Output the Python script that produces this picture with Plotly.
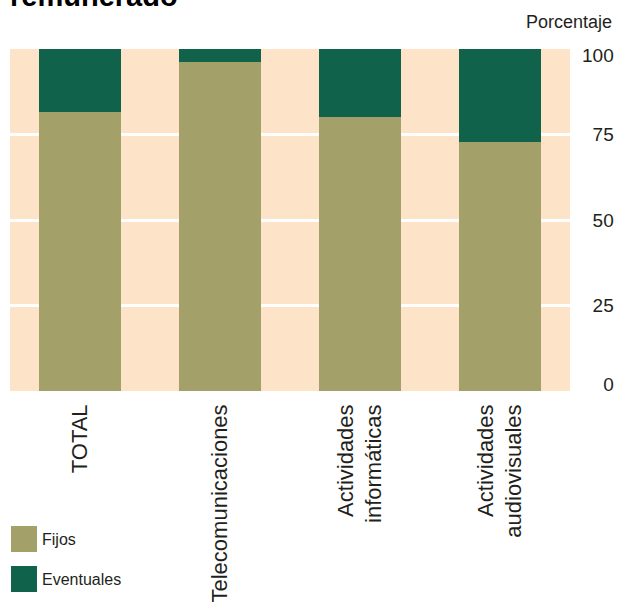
import plotly.graph_objects as go

categories = ["TOTAL", "Telecomunicaciones", "Actividades<br>informáticas", "Actividades<br>audiovisuales"]
fijos = [81.6, 96.2, 80.1, 72.8]
eventuales = [18.4, 3.8, 19.9, 27.2]
grid_values = [25, 50, 75]
y_tick_values = [0, 25, 50, 75, 100]
y_ticktext = ["\u2007\u20070", "\u200725", "\u200750", "\u200775", "100"]
legend_names = ["Fijos", "Eventuales"]

C_FIJOS = "#A3A06A"
C_EVENT = "#10634A"
BG = "#FDE3C8"
TXT = "#231F20"
FONT = "Liberation Sans, Arial, sans-serif"

W, H = 618, 606
# plot area in page pixels
PX0, PX1, PY0, PY1 = 10, 570, 49, 391
L, T, R, B = PX0, PY0, W - PX1, H - PY1
pw, ph = PX1 - PX0, PY1 - PY0

def px_x(x):
    return (x - PX0) / pw

def px_y(y):
    return 1 - (y - PY0) / ph

# end labels (0 and 100) sit slightly inside the plot edges, as in the original
INSET = 2.0
label_positions = [min(max(v, INSET), 100 - INSET) for v in y_tick_values]

fig = go.Figure()
fig.add_trace(go.Bar(x=categories, y=fijos, name=legend_names[0],
                     marker=dict(color=C_FIJOS, line=dict(width=0)), showlegend=False))
fig.add_trace(go.Bar(x=categories, y=eventuales, name=legend_names[1],
                     marker=dict(color=C_EVENT, line=dict(width=0)), showlegend=False))

fig.update_layout(
    barmode="stack",
    bargap=0.42,
    width=W, height=H,
    margin=dict(l=L, r=R, t=T, b=B, pad=0, autoexpand=False),
    paper_bgcolor="white",
    plot_bgcolor=BG,
    font=dict(family=FONT, color=TXT),
    xaxis=dict(
        tickangle=-90, ticks="", showgrid=False, showline=False, zeroline=False,
        tickfont=dict(size=22, color=TXT), ticklabelstandoff=8, automargin=False,
    ),
    yaxis=dict(
        side="right", range=[0, 100], tickvals=label_positions, ticktext=y_ticktext,
        showgrid=False, zeroline=False, showline=False, ticks="",
        tickfont=dict(size=19, color=TXT), ticklabelstandoff=11, automargin=False,
        minor=dict(tickvals=grid_values, showgrid=True, gridcolor="white", gridwidth=3, ticks=""),
    ),
    shapes=[
        dict(type="rect", xref="paper", yref="paper", x0=px_x(11), x1=px_x(37),
             y0=px_y(552), y1=px_y(526), fillcolor=C_FIJOS, line=dict(width=0)),
        dict(type="rect", xref="paper", yref="paper", x0=px_x(11), x1=px_x(37),
             y0=px_y(592), y1=px_y(566), fillcolor=C_EVENT, line=dict(width=0)),
    ],
    annotations=[
        dict(text=legend_names[0], xref="paper", yref="paper", x=px_x(40), y=px_y(539),
             xanchor="left", yanchor="middle", showarrow=False, font=dict(size=16, color=TXT)),
        dict(text=legend_names[1], xref="paper", yref="paper", x=px_x(40), y=px_y(579),
             xanchor="left", yanchor="middle", showarrow=False, font=dict(size=16, color=TXT)),
        dict(text="Porcentaje", xref="paper", yref="paper", x=px_x(614), y=px_y(22),
             xanchor="right", yanchor="middle", showarrow=False, font=dict(size=18, color=TXT)),
        dict(text="<b>remunerado</b>", xref="paper", yref="paper", x=px_x(8), y=px_y(14),
             xanchor="left", yanchor="bottom", showarrow=False, font=dict(size=29, color="#000000")),
    ],
)

fig.write_html(
    "out.html",
    config={"displayModeBar": False},
    post_script="document.body.style.margin='0';document.body.style.overflow='hidden';",
)
